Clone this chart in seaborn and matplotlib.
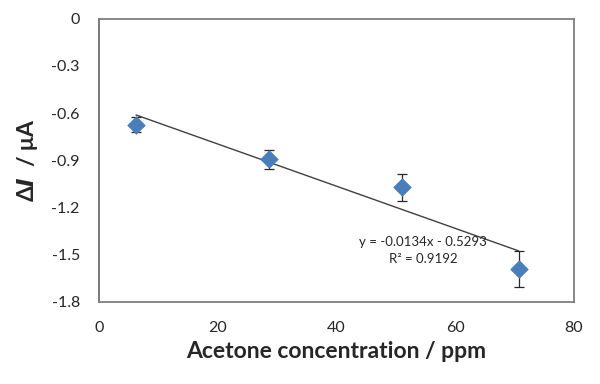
import matplotlib

matplotlib.use("Agg")
import matplotlib.pyplot as plt
import numpy as np
import pandas as pd
import seaborn as sns

# acetone concentration (ppm) vs current change (uA)
conc = [6.2, 28.6, 51.1, 70.7]
delta_i = [-0.674, -0.895, -1.073, -1.592]
err = [0.046, 0.060, 0.088, 0.113]

slope = -0.0134
intercept = -0.5293
r2 = 0.9192

x_ticks = [0, 20, 40, 60, 80]
y_ticks = [0, -0.3, -0.6, -0.9, -1.2, -1.5, -1.8]

sns.set_theme(style="white")
plt.rcParams["font.family"] = ["Lato", "DejaVu Sans"]

df = pd.DataFrame({"conc": conc, "delta_i": delta_i, "err": err})
trend = pd.DataFrame({"conc": [conc[0], conc[-1]]})
trend["fit"] = slope * trend["conc"] + intercept

fig = plt.figure(figsize=(6, 3.84), dpi=100)
ax = fig.add_axes([0.1655, 0.2143, 0.7907, 0.737])

sns.lineplot(data=trend, x="conc", y="fit", color="#404040", linewidth=1.0, ax=ax)
ax.errorbar(df["conc"], df["delta_i"], yerr=df["err"], fmt="none",
            ecolor="#262626", elinewidth=0.9, capsize=3.5, capthick=0.9, zorder=3)
sns.scatterplot(data=df, x="conc", y="delta_i", marker="D", s=80,
                color="#4a7ebb", edgecolor="#4a7ebb", linewidth=0.5, zorder=4, ax=ax)

ax.set_xlim(0, 80)
ax.set_ylim(-1.8, 0)
ax.set_xticks(x_ticks)
ax.set_yticks(y_ticks)
ax.set_xticklabels([str(v) for v in x_ticks])
ax.set_yticklabels(["0" if v == 0 else f"{v:.1f}" for v in y_ticks])
ax.tick_params(axis="y", direction="in", length=4, width=1, color="#808080",
               labelsize=11.5, pad=14)
ax.tick_params(axis="x", length=0, labelsize=11.5, pad=14)

for side in ["left", "right", "top", "bottom"]:
    ax.spines[side].set_visible(True)
    ax.spines[side].set_color("#7f7f7f")
    ax.spines[side].set_linewidth(1.3)
ax.spines["left"].set_color("#6f6f6f")

ax.set_xlabel("Acetone concentration / ppm", fontsize=16.5, fontweight="bold", labelpad=4)
ax.set_ylabel(r"Δ$\mathbfit{I}$  / μA", fontsize=16.5, fontweight="bold", labelpad=8)

ax.text(54.6, -1.475, f"y = {slope}x - {abs(intercept)}\nR² = {r2}",
        ha="center", va="center", fontsize=9.5, linespacing=1.5)

fig.savefig("out.png", dpi=100)
